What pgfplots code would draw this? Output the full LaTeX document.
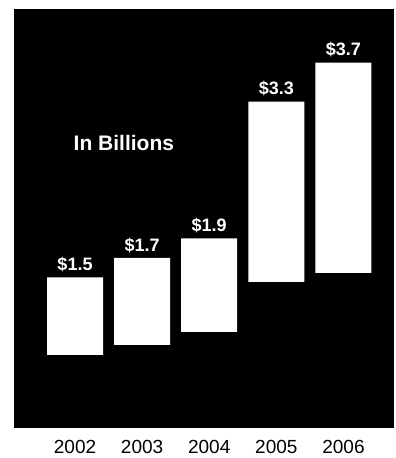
\documentclass[border=0pt]{standalone}
\usepackage{fontspec}
\setmainfont{Liberation Sans}
\usepackage{pgfplots}
\pgfplotsset{compat=1.18}
\begin{document}
\begin{tikzpicture}
\begin{axis}[
  name=ax,
  scale only axis,
  width=379pt, height=418pt,
  xmin=-0.909, xmax=4.738,
  ymin=-0.0307, ymax=4.248,
  axis background/.style={fill=black},
  axis line style={black},
  ytick=\empty,
  xtick={0,1,2,3,4},
  xticklabels={2002,2003,2004,2005,2006},
  major tick length=0pt,
  /pgf/number format/assume math mode=true,
  xticklabel style={font=\fontsize{19}{21}\selectfont, text=black, yshift=-10pt},
  ybar, bar shift=0pt,
  clip=false,
]
\addplot[fill=white, draw=none, bar width=56pt,
  nodes near coords={\$\pgfmathprintnumber[fixed,precision=1,fixed zerofill]{\pgfplotspointmeta}},
  nodes near coords style={font=\fontsize{18}{20}\selectfont\bfseries, text=white, yshift=2pt},
] coordinates {(0,1.5) (1,1.7) (2,1.9) (3,3.3) (4,3.7)};
\addplot[fill=black, draw=black, line width=2pt, bar width=56pt] coordinates {(0,0.70) (1,0.80) (2,0.93) (3,1.44) (4,1.54)};
\node[text=white, font=\fontsize{21}{23}\selectfont\bfseries] at (rel axis cs:0.29,0.679) {In Billions};
\end{axis}
\path ([xshift=-14pt,yshift=-31pt]ax.south west) rectangle ([xshift=3pt,yshift=9pt]ax.north east);
\end{tikzpicture}
\end{document}
